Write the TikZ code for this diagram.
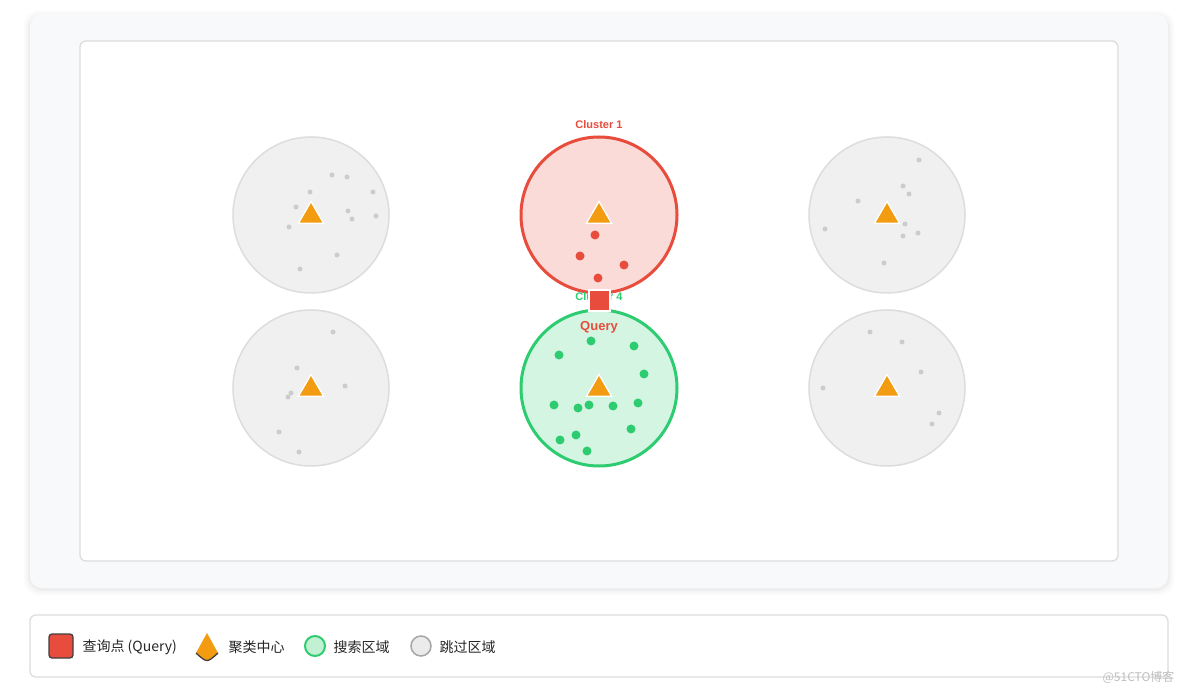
\documentclass[tikz,border=0pt]{standalone}
\usepackage{fontspec}
\setmainfont{Liberation Sans}
\newfontfamily\cjk{Noto Sans CJK SC}
\usetikzlibrary{shapes.geometric}
\definecolor{qred}{HTML}{E74C3C}
\definecolor{qgreen}{HTML}{2ECC71}
\definecolor{qorange}{HTML}{F39C12}
\definecolor{panelbg}{HTML}{F8F9FA}
\definecolor{bordergray}{HTML}{DDDDDD}
\definecolor{skipfill}{HTML}{F0F0F0}
\definecolor{dotgray}{HTML}{CCCCCC}
\definecolor{redfill}{HTML}{FADBD8}
\definecolor{greenfill}{HTML}{D5F5E3}
\definecolor{leggreen}{HTML}{C2F0D2}
\tikzset{
  skipclu/.style={circle, minimum size=156pt, inner sep=0pt, fill=skipfill, draw=bordergray, line width=1.5pt},
  redclu/.style={circle, minimum size=156pt, inner sep=0pt, fill=redfill, draw=qred, line width=3pt},
  greenclu/.style={circle, minimum size=156pt, inner sep=0pt, fill=greenfill, draw=qgreen, line width=3pt},
  centroid/.style={regular polygon, regular polygon sides=3, minimum size=29pt, inner sep=0pt, fill=qorange, draw=white, line width=1.3pt},
  gdot/.style={circle, minimum size=5pt, inner sep=0pt, fill=dotgray},
  rdot/.style={circle, minimum size=9pt, inner sep=0pt, fill=qred},
  gndot/.style={circle, minimum size=9pt, inner sep=0pt, fill=qgreen},
  clabel/.style={font=\bfseries\fontsize{11}{13}\selectfont},
  legtext/.style={font=\cjk\fontsize{14}{16}\selectfont, anchor=west, text=black!85},
}
\begin{document}
\begin{tikzpicture}[x=1pt,y=-1pt]
\useasboundingbox (0,0) rectangle (1184,692);
\fill[white] (0,0) rectangle (1184,692);
% soft shadow of the panel
\foreach \d/\o in {6/0.015,4/0.02,2/0.03}
  \fill[black, opacity=\o, rounded corners=14pt] (30-\d,14-\d+3) rectangle (1168+\d,588+\d+1);
% outer panel
\node[name=panel, draw=none, fill=panelbg, rounded corners=12pt, minimum width=1138pt, minimum height=574pt, inner sep=0pt] at (599,301) {};
% inner canvas
\node[name=canvas, draw=bordergray, line width=1.3pt, fill=white, rounded corners=6pt, minimum width=1038pt, minimum height=520pt, inner sep=0pt] at (599,301) {};

% clusters
\node[skipclu] (c0) at (311,215) {};
\node[redclu] (c1) at (599,215) {};
\node[skipclu] (c2) at (887,215) {};
\node[skipclu] (c3) at (311,388) {};
\node[greenclu] (c4) at (599,388) {};
\node[skipclu] (c5) at (887,388) {};

% gray dots
\foreach \p [count=\i] in {(332,175),(347,177),(310,192),(373,192),(296,207),(348,211),(352,219),(376,216),(289,227),(337,255),(300,269),
  (333,332),(297,368),(345,386),(291,393),(288,397),(279,432),(299,452),
  (919,160),(903,186),(909,194),(858,201),(825,229),(905,224),(903,236),(918,233),(884,263),
  (870,332),(902,342),(921,372),(823,388),(939,413),(932,424)}
  \node[gdot] (g\i) at \p {};
% red dots
\foreach \p [count=\i] in {(595,235),(580,256),(624,265),(598,278)}
  \node[rdot] (r\i) at \p {};
% green dots
\foreach \p [count=\i] in {(591,341),(559,355),(634,346),(644,374),(554,405),(578,408),(589,405),(613,406),(638,403),(631,429),(576,435),(560,440),(587,451)}
  \node[gndot] (n\i) at \p {};

% centroids
\foreach \c in {c0,c1,c2,c3,c4,c5}
  \node[centroid] (t\c) at ([yshift=-1pt]\c.center) {};

% labels
\node[clabel, text=qred] (l1) at (599,124.5) {Cluster 1};
\node[clabel, text=qgreen] (l4) at (599,297) {Cluster 4};
% query
\node[name=query, rectangle, minimum size=21pt, inner sep=0pt, fill=qred, draw=white, line width=2pt] at (599,301) {};
\node[font=\bfseries\fontsize{13}{15}\selectfont, text=qred] (ql) at (599,327) {Query};

% legend
\node[name=legend, draw=bordergray, line width=1.3pt, fill=white, rounded corners=6pt, minimum width=1138pt, minimum height=62pt, inner sep=0pt] at (599,646) {};
\node[name=lq, rectangle, rounded corners=3pt, minimum size=24pt, inner sep=0pt, fill=qred, draw=black!75, line width=1.3pt] at (61,646) {};
\node[legtext] (lqt) at (79,647) {查询点 (Query)};
\coordinate (cone) at (207,646);
\fill[qorange] ([shift={(0,-13)}]cone) -- ([shift={(-11,7)}]cone) .. controls ([shift={(0,17)}]cone) .. ([shift={(11,7)}]cone) -- cycle;
\draw[black!75, line width=1.3pt] ([shift={(-11,7)}]cone) .. controls ([shift={(0,17)}]cone) .. ([shift={(11,7)}]cone);
\node[legtext] (lct) at (225,647) {聚类中心};
\node[name=lg, circle, minimum size=20pt, inner sep=0pt, fill=leggreen, draw=qgreen, line width=2pt] at (315,646) {};
\node[legtext] (lgt) at (330,647) {搜索区域};
\node[name=ls, circle, minimum size=20pt, inner sep=0pt, fill=black!8, draw=black!35, line width=1.5pt] at (421,646) {};
\node[legtext] (lst) at (436,647) {跳过区域};

% watermark
\node[font=\cjk\fontsize{12}{14}\selectfont, text=black!25, anchor=east] (wm) at (1178,677) {@51CTO博客};
\end{tikzpicture}
\end{document}
